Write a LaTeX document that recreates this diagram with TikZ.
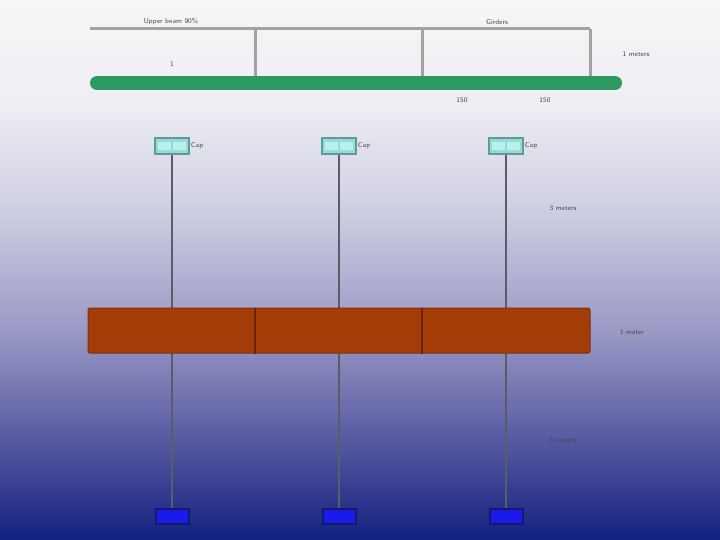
\documentclass[tikz,border=0pt]{standalone}
\usepackage{tikz}
\usetikzlibrary{positioning}

\definecolor{bgtop}{HTML}{F6F6F8}
\definecolor{bgpale}{HTML}{EEEEF3}
\definecolor{bglav}{HTML}{D2D2E5}
\definecolor{bgmid}{HTML}{9A9AC6}
\definecolor{bgdeep}{HTML}{5558A0}
\definecolor{bgbot}{HTML}{122080}
\definecolor{txtgray}{HTML}{484848}
\definecolor{tiegray}{HTML}{A2A2A2}
\definecolor{postgray}{HTML}{5C5C66}
\definecolor{beamgreen}{HTML}{2E9A62}
\definecolor{capedge}{HTML}{5E9C9A}
\definecolor{capfill}{HTML}{9ED8D4}
\definecolor{capcell}{HTML}{B6F2EE}
\definecolor{slabfill}{HTML}{A33C06}
\definecolor{slabedge}{HTML}{7E300C}
\definecolor{basefill}{HTML}{1A1AEC}
\definecolor{baseedge}{HTML}{141A66}

% the path is fitted to 25bp--75bp of the shading
\pgfdeclareverticalshading{sky}{100bp}{color(0bp)=(bgbot); color(25bp)=(bgbot);
  color(34bp)=(bgdeep); color(44.5bp)=(bgmid); color(56.5bp)=(bglav);
  color(65.5bp)=(bgpale); color(75bp)=(bgtop); color(100bp)=(bgtop)}

\begin{document}
\begin{tikzpicture}[x=1pt,y=-1pt,
  lbl/.style={font=\sffamily\fontsize{7}{8}\selectfont,text=txtgray,inner sep=1pt},
  tie/.style={draw=tiegray,line width=3pt},
  capbox/.style={draw=capedge,fill=capfill,line width=1.5pt,minimum width=34pt,minimum height=16pt,inner sep=0pt},
  capcell/.style={fill=capcell,minimum width=13pt,minimum height=8pt,inner sep=0pt},
  basebox/.style={draw=baseedge,fill=basefill,line width=2pt,minimum width=33pt,minimum height=15pt,inner sep=0pt},
  post/.style={draw=postgray,line width=1.5pt}]

 \shade[shading=sky] (0,0) rectangle (720,540); % background
 \useasboundingbox (0,0) rectangle (720,540);

% tie line over the beam
 \coordinate (t0) at (90,29);
 \coordinate (t1) at (255,29);
 \coordinate (t2) at (422,29);
 \coordinate (t3) at (590,29);
 \coordinate (d1) at (255,77);
 \coordinate (d2) at (422,77);
 \coordinate (d3) at (590,77);
 \draw[tie] (t0) -- (t3);
 \draw[tie] (t1) -- (d1);
 \draw[tie] (t2) -- (d2);
 \draw[tie] (t3) -- (d3);

% green beam
 \coordinate (g0) at (97,83);
 \coordinate (g1) at (615,83);
 \draw[beamgreen,line width=14pt,line cap=round] (g0) -- (g1);

 \node[lbl] (tieL) at (171,22) {Upper beam 90\%};
 \node[lbl] (tieR) at (497,22) {Girders};
 \node[lbl] (one) at (172,64) {1};
 \node[lbl] (hA) at (462,100) {150};
 \node[lbl] (hB) at (545,100) {150};
 \node[lbl] (gapT) at (636,54) {1 meters};

% caps and bases
 \node[capbox] (capA) at (172,146) {};
 \node[capbox] (capB) at (339,146) {};
 \node[capbox] (capC) at (506,146) {};
 \foreach \c in {capA,capB,capC} {
   \node[capcell,anchor=east] at ([xshift=-0.5pt]\c.center) {};
   \node[capcell,anchor=west] at ([xshift=0.5pt]\c.center) {};
 }
 \node[lbl,right=0pt of capA] (kA) {Cap};
 \node[lbl,right=0pt of capB] (kB) {Cap};
 \node[lbl,right=0pt of capC] (kC) {Cap};

 \node[basebox] (baseA) at (172,516) {};
 \node[basebox] (baseB) at (339,516) {};
 \node[basebox] (baseC) at (506,516) {};

% posts run behind the slab
 \draw[post] (capA.south) -- (baseA.north);
 \draw[post] (capB.south) -- (baseB.north);
 \draw[post] (capC.south) -- (baseC.north);

% slab
 \node[draw=slabedge,fill=slabfill,line width=1pt,rounded corners=2pt,
   minimum width=502pt,minimum height=45pt,inner sep=0pt] (slab) at (339,330.5) {};
 \draw[slabedge!80!black,line width=2.5pt] (slab.north -| d1) -- (slab.south -| d1);
 \draw[slabedge!80!black,line width=2.5pt] (slab.north -| d2) -- (slab.south -| d2);

 \node[lbl] (gapU) at (563,208) {3 meters};
 \node[lbl] (gapS) at (632,332) {1 meter};
 \node[lbl] (gapL) at (563,440) {3 meters};

\end{tikzpicture}
\end{document}
